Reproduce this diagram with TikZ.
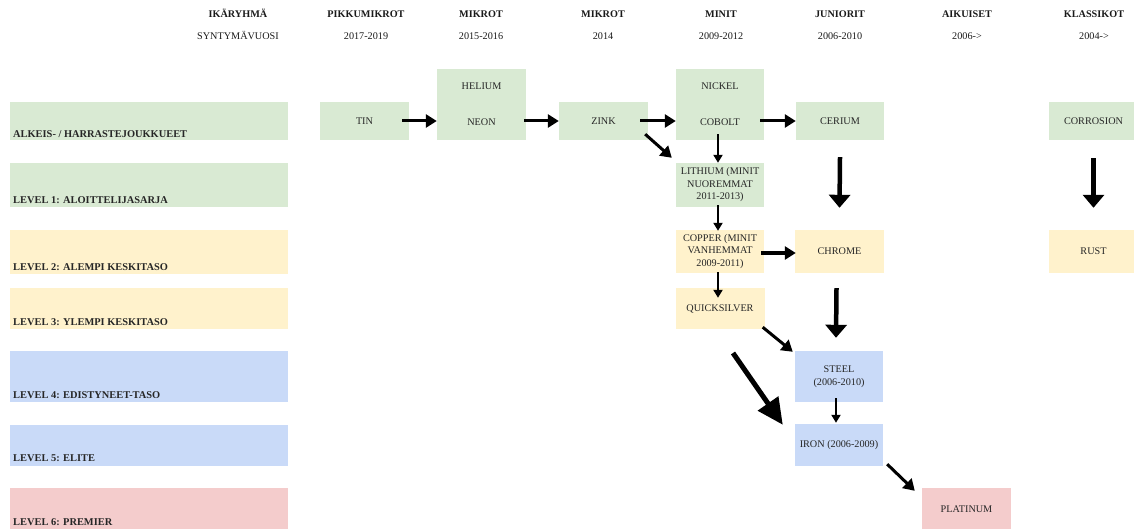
\documentclass[tikz,border=0pt]{standalone}
\usepackage{fontspec}
\setmainfont{Liberation Serif}
\usetikzlibrary{arrows.meta,calc}
\definecolor{cgreen}{HTML}{D9EAD3}
\definecolor{cyellow}{HTML}{FFF2CC}
\definecolor{cblue}{HTML}{C9DAF8}
\definecolor{cred}{HTML}{F4CCCC}
\definecolor{ctext}{HTML}{262626}
\definecolor{chead}{HTML}{1A1A1A}
\begin{document}
\begin{tikzpicture}[x=1pt,y=-1pt,
  box/.style={fill=#1, draw=none, inner sep=0pt, text=ctext,
    font=\fontsize{10.2}{12.5}\selectfont, align=center},
  hdr/.style={text=chead, font=\fontsize{10.2}{12}\selectfont\bfseries, inner sep=0pt, anchor=base},
  sub/.style={text=chead, font=\fontsize{10.2}{12}\selectfont, inner sep=0pt, anchor=base},
  lbl/.style={text=ctext, font=\fontsize{10.4}{12}\selectfont\bfseries, inner sep=0pt, anchor=base west},
  txt/.style={text=ctext, font=\fontsize{10.2}{12}\selectfont, inner sep=0pt, anchor=base},
  arr/.style={line width=3pt, -{Triangle[length=11pt,width=13pt]}},
  thinarr/.style={line width=2pt, -{Triangle[length=8pt,width=9pt]}},
  bigarr/.style={line width=4.5pt, -{Triangle[length=13pt,width=21pt]}},
  hugearr/.style={line width=5pt, -{Triangle[length=26pt,width=24pt]}}
]
\useasboundingbox (0,0) rectangle (1134,529);

% headers
\node[hdr] (h0) at (238,17.3) {IKÄRYHMÄ};
\node[hdr] (h1) at (366,17.3) {PIKKUMIKROT};
\node[hdr] (h2) at (481,17.3) {MIKROT};
\node[hdr] (h3) at (603,17.3) {MIKROT};
\node[hdr] (h4) at (721,17.3) {MINIT};
\node[hdr] (h5) at (840,17.3) {JUNIORIT};
\node[hdr] (h6) at (967,17.3) {AIKUISET};
\node[hdr] (h7) at (1094,17.3) {KLASSIKOT};
\node[sub] (s0) at (238,39.3) {SYNTYMÄVUOSI};
\node[sub] (s1) at (366,39.3) {2017-2019};
\node[sub] (s2) at (481,39.3) {2015-2016};
\node[sub] (s3) at (603,39.3) {2014};
\node[sub] (s4) at (721,39.3) {2009-2012};
\node[sub] (s5) at (840,39.3) {2006-2010};
\node[sub] (s6) at (967,39.3) {2006->};
\node[sub] (s7) at (1094,39.3) {2004->};

% level boxes
\node[box=cgreen, minimum width=278, minimum height=38] (l0) at (149,121) {};
\node[box=cgreen, minimum width=278, minimum height=44] (l1) at (149,185) {};
\node[box=cyellow, minimum width=278, minimum height=44] (l2) at (149,252) {};
\node[box=cyellow, minimum width=278, minimum height=41] (l3) at (149,308.5) {};
\node[box=cblue, minimum width=278, minimum height=51] (l4) at (149,376.5) {};
\node[box=cblue, minimum width=278, minimum height=41] (l5) at (149,445.5) {};
\node[box=cred, minimum width=278, minimum height=44] (l6) at (149,510) {};
\node[lbl] (t0) at (13,137.5) {ALKEIS- / HARRASTEJOUKKUEET};
\node[lbl] (t1) at (13,203.5) {LEVEL 1: ALOITTELIJASARJA};
\node[lbl] (t2) at (13,270.5) {LEVEL 2: ALEMPI KESKITASO};
\node[lbl] (t3) at (13,325.5) {LEVEL 3: YLEMPI KESKITASO};
\node[lbl] (t4) at (13,398.5) {LEVEL 4: EDISTYNEET-TASO};
\node[lbl] (t5) at (13,461.5) {LEVEL 5: ELITE};
\node[lbl] (t6) at (13,525.5) {LEVEL 6: PREMIER};

% team boxes
\node[box=cgreen, minimum width=89, minimum height=38] (tin) at (364.5,121) {TIN};
\node[box=cgreen, minimum width=89, minimum height=71] (hn) at (481.5,104.5) {};
\node[txt] (helium) at (481.5,89.5) {HELIUM};
\node[txt] (neon) at (481.5,125.5) {NEON};
\node[box=cgreen, minimum width=89, minimum height=38] (zink) at (603.5,121) {ZINK};
\node[box=cgreen, minimum width=88, minimum height=71] (nc) at (720,104.5) {};
\node[txt] (nickel) at (720,89.5) {NICKEL};
\node[txt] (cobolt) at (720,125.5) {COBOLT};
\node[box=cgreen, minimum width=88, minimum height=38] (cerium) at (840,121) {CERIUM};
\node[box=cgreen, minimum width=88, minimum height=44] (lithium) at (720,185) {LITHIUM (MINIT\\NUOREMMAT\\2011-2013)};
\node[box=cyellow, minimum width=88, minimum height=43] (copper) at (720,251.5) {COPPER (MINIT\\VANHEMMAT\\2009-2011)};
\node[box=cyellow, minimum width=89, minimum height=43] (chrome) at (839.5,251.5) {CHROME};
\node[box=cyellow, minimum width=89, minimum height=41] (quick) at (720,308.5) {QUICKSILVER};
\node[box=cblue, minimum width=88, minimum height=51] (steel) at (839,376.5) {STEEL\\(2006-2010)};
\node[box=cblue, minimum width=88, minimum height=42] (iron) at (839,445) {IRON (2006-2009)};
\node[box=cred, minimum width=89, minimum height=42] (plat) at (966.5,509) {PLATINUM};
\node[box=cgreen, minimum width=89, minimum height=38] (corr) at (1093.5,121) {CORROSION};
\node[box=cyellow, minimum width=89, minimum height=43] (rust) at (1093.5,251.5) {RUST};

\coordinate (bigstart) at (733,353);

% arrows
\draw[arr] ([shift={(-7,0)}]tin.east) -- (hn.west |- tin.center);
\draw[arr] ($(hn.east |- zink.center)+(-2,0)$) -- (zink.west);
\draw[arr] ([shift={(-8,0)}]zink.east) -- (nc.west |- zink.center);
\draw[arr] ($(nc.east |- cerium.center)+(-4,0)$) -- (cerium.west);
\draw[arr] ([shift={(-3,-6)}]zink.south east) -- ([shift={(-4,-5)}]lithium.north west);
\draw[thinarr] ([shift={(-2,-6)}]nc.south) -- ([shift={(-2,0)}]lithium.north);
\draw[thinarr] ([shift={(-2,-2)}]lithium.south) -- ([shift={(-2,1)}]copper.north);
\draw[arr] ([shift={(-3,1.5)}]copper.east) -- ([shift={(1,1.5)}]chrome.west);
\draw[thinarr] ([shift={(-2,-1)}]copper.south) -- ([shift={(-2,10)}]quick.north);
\draw[bigarr] ([shift={(0,17)}]cerium.south) -- ([shift={(0,-22)}]chrome.north);
\draw[bigarr] ([shift={(-3,15)}]chrome.south) -- ([shift={(-3,-13)}]steel.north);
\draw[arr] ([shift={(-2,-2)}]quick.south east) -- ([shift={(-2,1)}]steel.north west);
\draw[hugearr] (bigstart) -- ([shift={(-12,1)}]iron.north west);
\draw[thinarr] ([shift={(-3,-4)}]steel.south) -- ([shift={(-3,-1)}]iron.north);
\draw[arr] ([shift={(4,-2)}]iron.south east) -- ([shift={(-7,3)}]plat.north west);
\draw[bigarr] ([shift={(0,18)}]corr.south) -- ([shift={(0,-22)}]rust.north);
\end{tikzpicture}
\end{document}
